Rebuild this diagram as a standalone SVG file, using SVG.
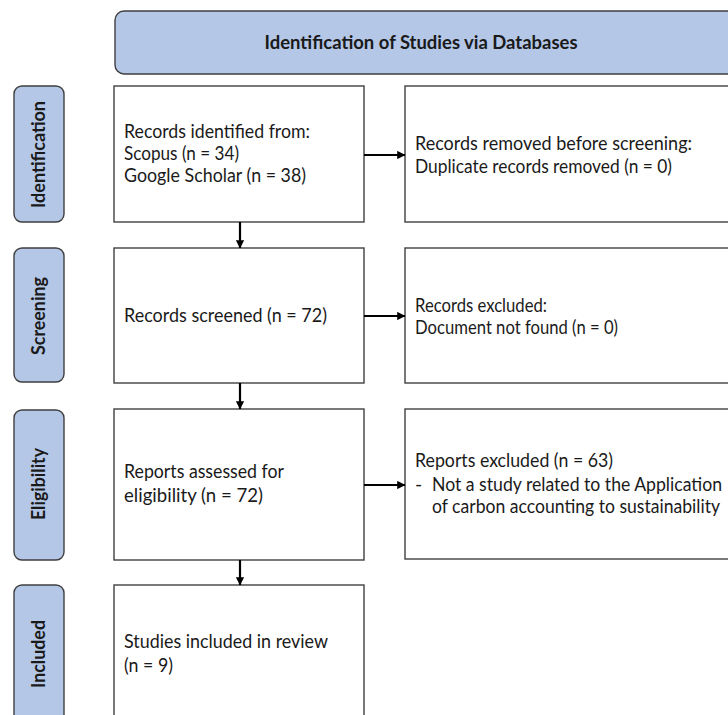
<svg xmlns="http://www.w3.org/2000/svg" width="728" height="715" viewBox="0 0 728 715">
<defs>
<style>
.stage{fill:#B4C7E7;stroke:#3F3F3F;stroke-width:1.4}
.box{fill:#FFFFFF;stroke:#404040;stroke-width:1.4}
.t{font-family:Lato,"Liberation Sans",sans-serif;font-size:19.5px;fill:#1a1a1a}
.b{font-family:Lato,"Liberation Sans",sans-serif;font-size:19.5px;font-weight:bold;fill:#1a1a1a}
.c{stroke:#000;stroke-width:2.2;fill:none;marker-end:url(#ah)}
</style>
<marker id="ah" viewBox="0 0 8 8" refX="7.5" refY="4" markerWidth="3.8" markerHeight="3.8" markerUnits="strokeWidth" orient="auto">
<path d="M0,0 L8,4 L0,8 Z" fill="#000"/>
</marker>
</defs>
<rect width="728" height="715" fill="#FFFFFF"/>

<g id="header">
<rect class="stage" x="115" y="11" width="630" height="63" rx="9"/>
<text class="b" x="421" y="49" text-anchor="middle" textLength="313" lengthAdjust="spacingAndGlyphs">Identification of Studies via Databases</text>
</g>

<g id="stage-identification">
<rect class="stage" x="14" y="86" width="50" height="136" rx="8"/>
<text class="b" transform="translate(45,154.5) rotate(-90)" text-anchor="middle" textLength="107" lengthAdjust="spacingAndGlyphs">Identification</text>
</g>
<g id="stage-screening">
<rect class="stage" x="14" y="248" width="50" height="134" rx="8"/>
<text class="b" transform="translate(45,316) rotate(-90)" text-anchor="middle" textLength="78" lengthAdjust="spacingAndGlyphs">Screening</text>
</g>
<g id="stage-eligibility">
<rect class="stage" x="14" y="410" width="50" height="150" rx="8"/>
<text class="b" transform="translate(45,484) rotate(-90)" text-anchor="middle" textLength="72" lengthAdjust="spacingAndGlyphs">Eligibility</text>
</g>
<g id="stage-included">
<rect class="stage" x="14" y="585" width="50" height="150" rx="8"/>
<text class="b" transform="translate(45,654) rotate(-90)" text-anchor="middle" textLength="68" lengthAdjust="spacingAndGlyphs">Included</text>
</g>

<g id="records-identified">
<rect class="box" x="114" y="86" width="250" height="136"/>
<text class="t" x="124" y="138" textLength="186" lengthAdjust="spacingAndGlyphs">Records identified from:</text>
<text class="t" x="124" y="160" textLength="115" lengthAdjust="spacingAndGlyphs">Scopus (n = 34)</text>
<text class="t" x="124" y="182" textLength="182" lengthAdjust="spacingAndGlyphs">Google Scholar (n = 38)</text>
</g>
<g id="records-removed">
<rect class="box" x="405" y="86" width="340" height="136"/>
<text class="t" x="415" y="150" textLength="277" lengthAdjust="spacingAndGlyphs">Records removed before screening:</text>
<text class="t" x="415" y="173" textLength="257" lengthAdjust="spacingAndGlyphs">Duplicate records removed (n = 0)</text>
</g>
<g id="records-screened">
<rect class="box" x="114" y="248" width="250" height="135"/>
<text class="t" x="124" y="322" textLength="203" lengthAdjust="spacingAndGlyphs">Records screened (n = 72)</text>
</g>
<g id="records-excluded">
<rect class="box" x="405" y="248" width="340" height="135"/>
<text class="t" x="415" y="312" textLength="132" lengthAdjust="spacingAndGlyphs">Records excluded:</text>
<text class="t" x="415" y="334" textLength="203" lengthAdjust="spacingAndGlyphs">Document not found (n = 0)</text>
</g>
<g id="reports-assessed">
<rect class="box" x="114" y="409" width="250" height="151"/>
<text class="t" x="124" y="478" textLength="160" lengthAdjust="spacingAndGlyphs">Reports assessed for</text>
<text class="t" x="124" y="502" textLength="139" lengthAdjust="spacingAndGlyphs">eligibility (n = 72)</text>
</g>
<g id="reports-excluded">
<rect class="box" x="405" y="409" width="340" height="150"/>
<text class="t" x="415" y="467" textLength="198" lengthAdjust="spacingAndGlyphs">Reports excluded (n = 63)</text>
<text class="t" x="415" y="491">-</text>
<text class="t" x="432" y="491" textLength="290" lengthAdjust="spacingAndGlyphs">Not a study related to the Application</text>
<text class="t" x="432" y="513" textLength="288" lengthAdjust="spacingAndGlyphs">of carbon accounting to sustainability</text>
</g>
<g id="studies-included">
<rect class="box" x="114" y="585" width="250" height="150"/>
<text class="t" x="124" y="648" textLength="204" lengthAdjust="spacingAndGlyphs">Studies included in review</text>
<text class="t" x="124" y="672" textLength="49" lengthAdjust="spacingAndGlyphs">(n = 9)</text>
</g>

<g id="connectors">
<line class="c" x1="240" y1="222" x2="240" y2="248"/>
<line class="c" x1="240" y1="383" x2="240" y2="409"/>
<line class="c" x1="240" y1="560" x2="240" y2="585"/>
<line class="c" x1="364" y1="155" x2="405" y2="155"/>
<line class="c" x1="364" y1="316" x2="405" y2="316"/>
<line class="c" x1="364" y1="485" x2="405" y2="485"/>
</g>
</svg>
